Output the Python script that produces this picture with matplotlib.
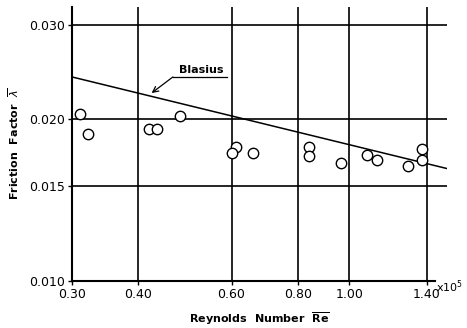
import matplotlib.pyplot as plt
from matplotlib.ticker import FixedLocator, FixedFormatter, NullLocator

# donnees (Re en unites de 1e5)
re_pts = [0.31, 0.322, 0.42, 0.434, 0.48, 0.613, 0.60, 0.66,
          0.84, 0.84, 0.967, 1.08, 1.13, 1.29, 1.375, 1.375]
lam_pts = [0.0205, 0.0188, 0.0192, 0.0192, 0.0203, 0.0178, 0.0173, 0.0173,
           0.0178, 0.0171, 0.0166, 0.0172, 0.0168, 0.0164, 0.0176, 0.0168]

blasius_re = [0.30, 1.53]
blasius_lam = [0.0240, 0.0162]

x_ticks = [0.30, 0.40, 0.60, 0.80, 1.00, 1.40]
x_labels = ['0.30', '0.40', '0.60', '0.80', '1.00', '1.40']
y_ticks = [0.010, 0.015, 0.020, 0.030]
y_labels = ['0.010', '0.015', '0.020', '0.030']

fig = plt.figure(figsize=(4.67, 3.28), dpi=100)
ax = fig.add_axes([72/467, 1-281/328, (447-72)/467, (281-7)/328])
ax.set_xscale('log')
ax.set_yscale('log')
ax.set_xlim(0.30, 1.53)
ax.set_ylim(0.010, 0.0324)

# grille
for xv in x_ticks[1:]:
    ax.axvline(xv, color='black', lw=1.2, zorder=1)
for yv in y_ticks[1:]:
    ax.axhline(yv, color='black', lw=1.2, zorder=1)

# courbe de Blasius
ax.plot(blasius_re, blasius_lam, color='black', lw=1.1, zorder=2)

# points mesures
ax.plot(re_pts, lam_pts, linestyle='none', marker='o', markersize=7.5,
        markerfacecolor='white', markeredgecolor='black', markeredgewidth=1.0,
        zorder=3)

# etiquette Blasius + fleche
ax.annotate('', xy=(0.424, 0.0224), xytext=(0.465, 0.0240),
            arrowprops=dict(arrowstyle='->', color='black', lw=0.9,
                            shrinkA=0, shrinkB=0, mutation_scale=10))
ax.plot([0.465, 0.588], [0.0240, 0.0240], color='black', lw=0.9)
ax.text(0.525, 0.02425, 'Blasius', fontsize=8, fontweight='bold',
        ha='center', va='bottom')

# axes
for s in ['top', 'right']:
    ax.spines[s].set_visible(False)
ax.spines['left'].set_linewidth(1.5)
ax.spines['bottom'].set_linewidth(1.5)
ax.spines['bottom'].set_bounds(0.30, 1.45)

ax.xaxis.set_major_locator(FixedLocator(x_ticks))
ax.xaxis.set_major_formatter(FixedFormatter(x_labels))
ax.xaxis.set_minor_locator(NullLocator())
ax.yaxis.set_major_locator(FixedLocator(y_ticks))
ax.yaxis.set_major_formatter(FixedFormatter(y_labels))
ax.yaxis.set_minor_locator(NullLocator())
ax.tick_params(axis='both', length=3, width=1, labelsize=9, pad=2)

ax.text(1.46, 0.0101, r'x10$^5$', fontsize=8, ha='left', va='top')

ax.set_xlabel(r'Reynolds  Number  $\overline{\mathbf{Re}}$', fontsize=8,
              fontweight='bold', labelpad=7)
ax.set_ylabel(r'Friction  Factor  $\overline{\lambda}$', fontsize=8,
              fontweight='bold', labelpad=6)

plt.savefig('out.png', dpi=100)
